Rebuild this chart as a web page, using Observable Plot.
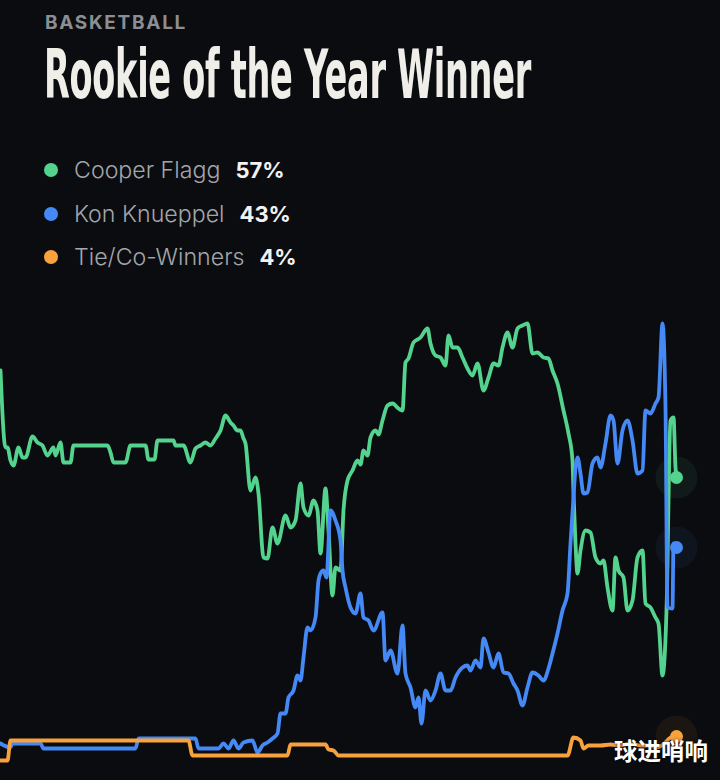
<!DOCTYPE html>
<html>
<head>
<meta charset="utf-8">
<script src="https://cdn.jsdelivr.net/npm/d3@7"></script>
<script src="https://cdn.jsdelivr.net/npm/@observablehq/plot@0.6"></script>
<style>
  html, body { margin: 0; padding: 0; background: #0b0c10; width: 720px; height: 780px; overflow: hidden; }
  #wrap { position: relative; width: 720px; height: 780px; }
  .kicker { position: absolute; left: 45px; top: 11px; font: 700 19px "Inter", "Roboto", sans-serif; letter-spacing: 1.7px; color: #8b8e94; }
  .title { position: absolute; left: 44px; top: 42px; font: 700 67px "Liberation Sans Narrow", "DejaVu Sans Condensed", "Roboto", sans-serif; color: #efeee9; white-space: nowrap; transform-origin: 0 0; line-height: 1; letter-spacing: -0.5px; }
  .row { position: absolute; left: 44px; height: 30px; display: flex; align-items: center; font: 300 23.2px "Inter", "Roboto", sans-serif; color: #a3a6ab; white-space: nowrap; }
  .row .dot { width: 14px; height: 14px; border-radius: 50%; margin-right: 16px; }
  .row .pct { color: #f2f2f2; font-weight: 700; font-size: 22px; margin-left: 15px; }
  #chart { position: absolute; left: 0; top: 300px; }
  .wm { position: absolute; left: 614px; top: 733px; font: 700 23.5px "Noto Sans CJK SC", sans-serif; color: #ffffff; text-shadow: 0 0 3px rgba(0,0,0,0.8); }
</style>
</head>
<body>
<div id="wrap">
  <div class="kicker">BASKETBALL</div>
  <div class="title" id="title">Rookie of the Year Winner</div>
  <div id="legend"></div>
  <div id="chart"></div>
  <div class="wm">球进哨响</div>
</div>
<script>
// Outcomes and their current probabilities (legend)
const outcomes = ["Cooper Flagg", "Kon Knueppel", "Tie/Co-Winners"];
const currentPct = [57, 43, 4];
const colors = ["#54d38f", "#4489f6", "#f7a23c"];

// Series: [time index, probability %]
const cooperFlagg = [
  [0,78.4],[5,63],[7,63],[10,60.4],[13,59.4],[18,63],[22,61],[25,61],[32,65.2],[37,64],[42,63.4],[47,61.4],
  [53,63],[55,61.4],[60,64],[63,60],[70,60],[73,63.4],[107,63.4],[110,62],[113,60],[125,60],[130,63.4],
  [145,63.4],[148,60.6],[154,60.6],[157,64.4],[173,64.4],[175,63.4],[183,63.4],[190,60],[195,62.8],[200,63.4],
  [205,64],[210,63.4],[215,64.8],[220,66.4],[225,69.4],[230,68],[233,67.4],[237,66.4],[240,66.4],[243,64.8],
  [245,63.8],[250,54.4],[255,57],[258,53.8],[263,41],[267,40.8],[272,47],[277,43.8],[285,49.4],[290,47],
  [295,48.4],[300,55.8],[303,51],[308,49.4],[313,52.4],[317,50.4],[320,41.8],[325,54.8],[328,46.4],[332,33.4],
  [335,39],[340,38.4],[343,50.4],[347,56.4],[352,58.4],[357,60.4],[360,59.6],[363,62.4],[367,61.4],[370,65],[375,66.4],[378,65.6],[382,68.4],
  [387,71.4],[392,71.8],[398,70.8],[402,70.4],[405,80],[408,80.8],[413,84],[420,85],[427,86.8],[430,83.8],
  [435,81.4],[440,81],[445,79.4],[448,85.4],[452,83],[457,83],[462,81],[467,78.8],[472,77.4],[477,79.8],
  [483,74.4],[488,77],[493,79.8],[498,79.4],[502,83],[507,86],[512,83],[517,86.8],[522,87.4],[527,87.8],
  [532,81.8],[537,82],[543,81],[548,80.8],[552,78.4],[557,75.8],[563,70.4],[568,65.8],[572,60.4],[573,53.8],
  [575,43.8],[577,37.8],[580,42.4],[585,46.4],[590,46],[595,41],[600,39.8],[603,40.4],[607,35],[612,30.4],
  [615,41],[618,38.4],[623,37],[627,30.4],[632,32.4],[637,41],[642,42.4],[645,31.8],[650,31],[655,29],
  [658,27.8],[662,17.4],[666,30.4],[670,68.4],[673,69],[675,59],[676,57]
];
const konKnueppel = [
  [0,3.8],[10,3],[12,3.8],[40,3.8],[43,2.8],[135,2.8],[138,4.8],[195,4.8],[198,2.8],[218,2.8],[223,3.8],
  [228,2.8],[233,4.4],[238,2.8],[243,4],[252,4.4],[257,2],[262,3.4],[267,4],[272,4.8],[277,5.8],[280,9.8],
  [285,9.8],[288,13],[293,14.4],[297,17.4],[300,16.4],[303,21],[307,27],[310,26.4],[315,29],[318,36.4],
  [320,37.8],[323,38.4],[326,37],[330,50.4],[335,48.4],[340,44.4],[342,38.4],[345,35],[350,31],[355,29.8],
  [360,33.8],[363,29],[368,28.4],[373,26.4],[382,30],[385,20.4],[390,22.4],[397,17.8],[402,27.4],[405,17.8],
  [410,15],[415,11],[418,13],[421,7.8],[425,14.4],[430,12.4],[435,14.4],[440,17.8],[445,14.4],[450,14.4],
  [455,17],[462,19],[467,19.4],[470,18.4],[475,20.4],[480,19],[483,24.8],[488,22],[493,19],[498,21.8],
  [503,18],[508,17.8],[513,15.8],[517,14.4],[522,11.4],[527,15],[532,18],[538,17.4],[543,16.4],[548,18.8],
  [552,21.8],[557,25.8],[562,30.4],[567,33.8],[570,43.8],[573,53],[575,59],[577,61],[580,57.8],[583,53.8],
  [587,54],[592,59.8],[597,61],[600,59],[605,63.8],[610,69.4],[613,68.4],[617,59.8],[622,66.4],[627,68.4],
  [632,64.4],[637,57.8],[642,58.4],[645,70.4],[650,69.8],[655,71.8],[658,73],[662,87.8],[665,71],[667,31],
  [672,30.8],[673,43.8],[676,43]
];
const tieCoWinners = [
  [0,0.4],[7,0.4],[10,4.4],[188,4.4],[192,1.4],[287,1.4],[290,3.6],[325,3.6],[328,2.6],[333,2.4],[338,1.4],
  [567,1.4],[573,5],[580,4.4],[583,2.8],[588,3.4],[600,3.4],[610,3.6],[620,3.4],[630,3.8],[640,3.4],
  [650,3.4],[655,3],[663,3.6],[670,5],[676,5.2]
];

// Legend
const legend = document.getElementById("legend");
outcomes.forEach((name, i) => {
  const row = document.createElement("div");
  row.className = "row";
  row.style.top = (155 + i * 43.5) + "px";
  row.innerHTML = `<span class="dot" style="background:${colors[i]}"></span><span>${name}</span><span class="pct">${currentPct[i]}%</span>`;
  legend.appendChild(row);
});

// Fit condensed title width
const t = document.getElementById("title");
const w = t.getBoundingClientRect().width;
t.style.transform = `scaleX(${487 / w})`;

const seriesList = [cooperFlagg, konKnueppel, tieCoWinners];
const ends = seriesList.map((s, i) => ({t: s[s.length - 1][0], p: s[s.length - 1][1], c: colors[i]}));

const lineOpts = (i) => ({x: d => d[0], y: d => d[1], stroke: colors[i], strokeWidth: 3.8, curve: "monotone-x", strokeLinejoin: "round", strokeLinecap: "round"});

const chart = Plot.plot({
  width: 720,
  height: 480,
  marginLeft: 0,
  marginRight: 44,
  marginTop: 12,
  marginBottom: 18,
  x: {domain: [0, 676], axis: null},
  y: {domain: [0, 90], axis: null},
  style: {background: "transparent", overflow: "visible"},
  marks: [
    Plot.line(cooperFlagg, lineOpts(0)),
    Plot.line(konKnueppel, lineOpts(1)),
    Plot.line(tieCoWinners, lineOpts(2)),
    Plot.dot(ends, {x: "t", y: "p", r: 21, fill: d => d.c, fillOpacity: 0.07, stroke: null}),
    Plot.dot(ends, {x: "t", y: "p", r: 6.5, fill: d => d.c, stroke: null})
  ]
});
document.getElementById("chart").appendChild(chart);
</script>
</body>
</html>
